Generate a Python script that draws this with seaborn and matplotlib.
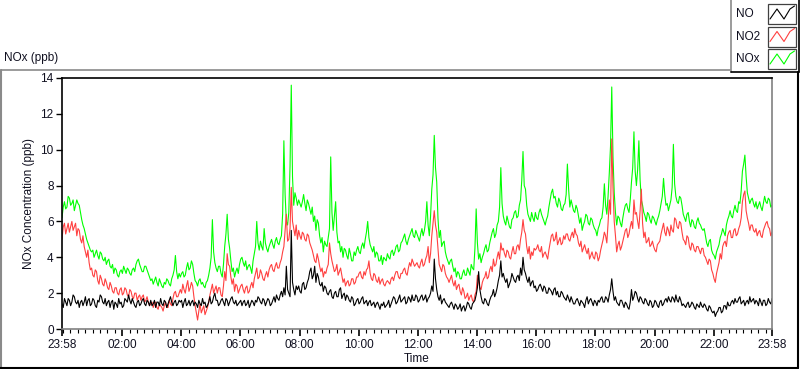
import numpy as np
import pandas as pd
import matplotlib
matplotlib.use("Agg")
import matplotlib.pyplot as plt
from matplotlib.lines import Line2D
from matplotlib.patches import Rectangle
import seaborn as sns

# ---------------- data ----------------
# readings every 5 minutes starting 23:58 (on the :58/:03/... marks)
no_vals = [
    1.4,1.7,1.3,1.6,1.5,1.8,1.4,1.2,1.6,1.5,1.3,1.7,
    1.4,1.6,1.2,1.5,1.8,1.4,1.3,1.6,1.5,1.1,1.4,1.7,
    1.5,1.3,1.6,1.9,1.4,1.5,1.2,1.6,1.4,1.7,1.3,1.5,
    1.6,1.4,1.2,1.5,1.7,1.3,1.5,1.4,1.8,1.3,1.6,1.4,
    1.5,1.2,1.7,1.4,1.3,1.6,1.5,1.2,1.4,1.7,1.5,1.3,
    1.8,1.5,2.0,1.6,1.4,1.7,1.3,1.6,1.5,1.8,1.4,1.3,
    1.5,1.3,1.6,1.4,1.2,1.6,1.3,1.5,1.7,1.4,1.6,1.5,
    1.6,1.4,1.8,1.9,1.6,2.1,2.3,3.5,2.0,5.5,2.2,2.4,
    2.4,2.0,2.6,2.3,2.8,3.4,3.0,2.6,2.9,2.4,2.1,2.3,
    1.9,2.2,1.7,2.1,1.8,2.3,1.9,1.6,1.8,1.5,1.7,1.4,
    1.7,1.5,1.8,1.5,1.3,1.6,1.4,1.2,1.5,1.1,1.3,1.2,
    1.4,1.2,1.6,1.7,1.5,1.9,1.6,1.8,1.5,1.7,1.9,1.6,
    1.8,1.6,1.9,1.7,1.5,1.8,2.4,3.9,2.2,1.6,1.4,1.7,
    1.4,1.2,1.5,1.1,1.3,1.2,1.0,1.3,1.2,1.4,1.1,1.5,
    1.9,3.2,1.8,1.4,1.6,1.3,1.8,2.2,2.0,2.7,3.8,3.1,
    2.6,2.3,2.7,2.9,2.6,3.0,3.4,4.0,3.1,2.6,2.4,2.7,
    2.4,2.2,2.5,2.1,2.3,2.0,2.2,1.9,2.3,2.1,1.8,2.0,
    1.7,1.9,1.5,1.6,1.4,1.7,1.3,1.5,1.2,1.8,1.6,1.5,
    1.6,1.3,1.5,1.8,1.5,1.7,1.9,2.8,1.6,1.5,1.3,1.6,
    1.2,1.4,1.1,2.2,1.8,2.0,1.5,1.7,1.4,1.6,1.3,1.5,
    1.3,1.5,1.2,1.6,1.4,1.7,1.8,1.5,1.7,1.9,1.5,1.6,
    1.4,1.2,1.5,1.3,1.4,1.1,1.3,1.5,1.2,1.3,1.0,1.2,
    0.9,0.7,1.0,1.2,1.0,1.3,1.5,1.3,1.6,1.7,1.5,1.8,
    1.5,1.3,1.6,1.8,1.6,1.4,1.5,1.7,1.3,1.6,1.4,1.5,
    1.7,
]
# readings at the 2.5-minute offsets in between
no_mid = [
    1.2,1.5,1.7,1.3,1.9,1.5,1.6,1.5,1.3,1.8,1.6,1.3,
    1.7,1.3,1.6,1.9,1.5,1.7,1.5,1.2,1.6,1.5,1.2,1.4,
    1.2,1.7,1.5,1.6,1.7,1.3,1.5,1.3,1.6,1.4,1.6,1.3,
    1.3,1.6,1.5,1.3,1.4,1.6,1.2,1.6,1.5,1.5,1.3,1.6,
    1.6,1.5,1.3,1.6,1.5,1.3,1.4,1.6,1.3,1.4,1.2,1.5,
    1.4,1.8,1.6,1.3,1.6,1.5,1.7,1.3,1.7,1.5,1.6,1.4,
    1.6,1.5,1.3,1.6,1.4,1.5,1.6,1.8,1.5,1.7,1.3,1.7,
    1.3,1.6,1.5,1.7,1.9,1.8,1.9,2.2,1.8,2.6,1.9,2.2,
    2.1,2.5,2.2,2.6,3.2,2.8,3.5,3.1,2.5,2.6,2.4,2.0,
    2.1,1.8,2.0,1.8,2.2,1.7,2.0,1.9,1.6,1.8,1.3,1.6,
    1.4,1.7,1.4,1.6,1.5,1.3,1.5,1.4,1.3,1.4,1.5,1.3,
    1.6,1.4,1.8,1.4,1.7,1.5,1.7,1.4,1.8,1.5,1.6,1.9,
    1.5,1.8,1.6,1.9,1.7,2.0,2.1,2.8,1.8,1.9,1.6,1.5,
    1.3,1.4,1.3,1.4,1.1,1.4,1.2,1.0,1.5,1.2,1.4,1.6,
    2.3,2.2,1.5,1.7,1.4,1.6,1.9,1.8,2.3,3.0,2.9,2.8,
    2.8,2.5,3.1,2.7,2.9,2.7,3.0,3.3,2.8,2.9,2.6,2.3,
    2.1,2.4,2.3,2.4,2.0,2.3,2.1,2.2,1.9,1.8,2.1,1.8,
    1.6,1.7,1.8,1.4,1.6,1.5,1.6,1.4,1.6,1.4,1.7,1.3,
    1.5,1.6,1.7,1.5,1.8,1.5,2.2,2.1,1.8,1.4,1.6,1.4,
    1.5,1.2,1.5,1.6,2.1,1.7,1.8,1.5,1.7,1.4,1.6,1.2,
    1.6,1.3,1.5,1.3,1.6,1.5,1.6,1.8,1.5,1.6,1.8,1.3,
    1.3,1.4,1.2,1.5,1.2,1.4,1.2,1.3,1.4,1.1,1.3,1.0,
    1.0,0.9,1.2,0.9,1.3,1.1,1.3,1.5,1.4,1.5,1.7,1.4,
    1.6,1.5,1.4,1.5,1.7,1.6,1.3,1.5,1.6,1.3,1.7,1.4,
]

no2_vals = [
    5.0,5.9,5.6,5.4,6.0,5.7,5.2,5.5,4.8,4.6,4.0,3.7,
    3.4,2.9,3.2,2.5,2.8,2.4,2.6,2.2,2.4,2.0,2.3,1.9,
    2.3,2.0,2.2,1.8,2.1,1.7,2.0,1.8,1.6,1.9,1.6,1.5,
    1.4,1.2,1.5,1.1,1.3,1.0,1.5,1.2,1.4,1.7,2.1,1.8,
    2.2,2.5,2.0,2.7,2.3,2.4,1.3,0.5,1.4,1.1,0.8,1.2,
    1.9,2.5,2.2,2.0,2.3,1.8,3.2,4.2,3.5,2.5,2.1,2.4,
    2.2,2.5,2.0,2.4,2.1,2.6,2.8,3.4,2.9,3.1,2.7,3.2,
    3.3,3.6,3.2,3.7,3.4,3.9,4.6,6.4,5.0,7.9,5.6,5.8,
    5.5,5.0,5.3,4.9,5.2,4.6,4.1,3.7,3.9,3.2,2.9,3.1,
    3.6,4.2,3.5,3.3,3.0,3.4,2.6,2.4,2.7,2.5,2.8,2.6,
    2.9,3.2,2.8,3.0,3.4,3.1,2.7,3.0,2.6,2.5,2.8,2.4,
    2.7,2.5,2.9,3.0,3.2,2.8,3.1,3.4,3.0,3.7,3.9,3.5,
    3.7,3.4,3.9,3.6,4.1,3.7,5.2,6.6,5.4,3.6,3.2,3.5,
    2.9,2.6,3.0,2.4,2.2,2.5,1.9,2.1,1.8,1.6,1.9,1.5,
    2.1,2.6,2.2,2.8,3.2,2.9,3.5,3.9,3.6,4.3,4.8,4.5,
    4.0,4.3,3.9,4.6,4.2,4.7,5.0,6.1,5.3,4.2,3.9,4.1,
    4.4,4.7,4.3,4.0,4.3,3.9,4.8,5.3,5.0,4.7,5.1,4.8,
    5.0,5.3,4.9,5.4,5.6,5.2,4.6,4.3,4.7,4.2,3.9,4.3,
    3.9,4.2,4.0,4.7,5.4,4.8,7.2,10.6,6.0,4.3,4.9,4.6,
    5.2,5.6,5.3,6.0,7.2,6.5,5.6,7.8,5.1,4.8,5.1,4.7,
    4.6,4.3,4.8,5.3,5.9,5.2,5.5,5.8,5.4,6.1,5.6,5.9,
    5.0,4.7,5.1,4.4,4.7,4.3,4.6,4.2,4.5,4.0,3.6,3.8,
    3.1,2.6,3.4,4.2,4.6,4.9,5.2,5.5,5.1,5.6,5.3,5.8,
    7.1,7.7,6.2,5.5,5.8,5.4,5.2,5.5,5.1,5.7,6.0,5.6,
    5.4,
]
no2_mid = [
    5.7,5.3,5.9,5.7,5.5,5.9,5.6,5.0,5.2,4.3,4.4,3.3,
    3.0,3.3,2.7,3.0,2.5,2.8,2.3,2.6,2.1,2.3,2.0,2.2,
    1.9,2.3,1.9,2.2,1.8,2.0,1.6,1.9,1.8,1.5,1.8,1.3,
    1.5,1.4,1.2,1.4,1.2,1.3,1.2,1.6,1.3,2.0,1.8,2.0,
    2.0,2.2,2.4,2.1,2.6,1.8,0.9,1.0,0.9,1.3,1.0,1.5,
    2.2,2.0,2.4,2.3,1.9,2.4,2.7,3.6,2.9,2.8,2.5,2.0,
    2.4,2.2,2.3,2.0,2.4,2.3,3.1,2.8,3.3,2.8,3.0,2.9,
    3.5,3.3,3.5,3.4,3.7,4.3,5.5,4.9,5.6,6.0,5.2,5.0,
    5.2,5.4,5.0,5.3,4.8,4.4,3.8,4.2,3.5,3.4,3.2,3.4,
    4.8,3.8,3.2,3.6,3.2,3.0,2.8,2.6,2.4,2.8,2.5,2.9,
    3.1,2.9,3.2,3.3,3.8,2.8,3.1,2.7,2.9,2.7,2.5,2.6,
    2.6,2.8,2.7,3.2,2.9,3.1,3.3,3.1,3.4,3.5,3.7,3.6,
    3.5,3.7,3.5,3.9,4.6,4.2,5.9,5.8,4.5,3.4,3.6,3.1,
    2.8,2.8,2.6,2.7,2.4,2.1,2.3,1.7,2.0,1.8,1.6,1.9,
    3.0,2.3,2.6,2.9,2.8,3.3,3.2,3.5,4.0,3.9,4.4,4.2,
    4.4,4.0,4.3,4.2,4.6,4.4,5.4,5.5,4.6,4.6,4.3,4.5,
    4.5,4.4,4.6,4.2,4.1,4.4,5.2,4.9,5.4,4.9,4.7,5.2,
    5.3,5.0,5.2,5.1,5.3,4.8,4.9,4.5,4.4,4.5,4.1,4.0,
    4.3,3.8,4.4,5.0,5.2,5.9,6.4,7.9,5.2,4.7,4.4,4.9,
    5.5,5.1,5.7,5.6,6.4,6.0,6.6,5.9,5.4,4.9,4.6,4.9,
    4.4,4.7,4.9,5.6,5.4,5.7,5.2,5.5,6.2,5.7,6.0,5.4,
    4.9,5.2,4.6,4.8,4.4,4.6,4.4,4.5,4.1,3.8,3.9,3.3,
    2.8,3.1,3.7,3.9,4.8,4.6,5.4,5.1,5.5,5.2,5.6,6.2,
    7.5,6.6,5.9,5.8,5.5,5.6,5.4,5.2,5.5,5.9,5.7,5.2,
]

nox_vals = [
    6.2,7.1,6.8,7.3,7.0,6.6,7.2,6.9,6.1,5.6,5.0,4.6,
    4.3,4.0,4.4,3.9,4.2,3.8,3.6,3.9,3.4,3.1,3.3,2.9,
    3.3,3.5,3.1,3.3,3.0,3.4,3.6,3.9,3.4,3.2,3.5,3.1,
    2.7,2.5,2.9,2.4,2.6,2.3,2.5,2.7,2.4,3.0,4.1,2.8,
    2.9,3.2,3.0,3.7,3.4,3.6,2.7,2.4,2.8,2.6,2.3,2.7,
    3.4,6.1,3.7,3.2,3.5,2.9,4.6,6.4,4.5,3.2,2.9,3.4,
    3.6,4.0,3.5,3.3,3.6,3.1,4.2,6.0,4.4,4.6,5.6,4.5,
    4.6,5.0,4.5,5.1,4.7,5.2,10.5,6.0,6.5,13.6,6.9,7.3,
    7.2,6.8,7.5,6.6,7.0,6.4,6.0,5.5,5.9,4.8,4.3,4.7,
    5.1,9.6,5.5,7.1,4.8,4.3,4.0,4.4,3.9,4.2,3.8,4.1,
    4.6,4.2,4.8,5.0,6.0,4.7,4.3,4.0,4.2,3.8,3.6,3.9,
    4.2,3.9,4.4,4.3,4.7,4.4,4.9,5.3,4.7,5.2,5.6,5.1,
    5.3,4.9,5.6,5.5,7.1,5.2,7.8,10.8,8.2,5.1,4.6,4.9,
    4.0,3.6,3.9,3.2,2.9,3.1,2.8,3.3,3.0,3.2,3.6,3.3,
    6.7,3.9,3.7,4.2,4.7,4.4,5.1,5.6,5.3,6.0,9.0,6.3,
    5.8,6.0,5.6,6.2,6.6,6.3,7.2,9.9,7.8,6.4,6.0,6.2,
    6.5,6.1,6.7,6.2,5.8,6.3,7.2,7.8,7.4,6.8,7.1,6.6,
    7.0,9.2,6.8,6.9,6.5,6.7,5.9,5.5,6.0,6.3,5.8,6.1,
    5.6,5.2,5.8,6.2,8.1,6.4,8.7,13.5,7.6,5.8,6.2,5.7,
    6.6,7.0,6.5,8.2,11.0,8.0,10.5,7.2,6.5,6.0,6.4,5.9,
    6.2,5.8,6.3,7.0,8.4,6.9,6.6,7.2,10.3,7.4,7.0,7.3,
    6.4,6.0,6.5,5.7,6.0,5.6,6.2,5.8,5.5,5.2,4.6,5.0,
    4.2,3.9,4.5,5.1,5.6,5.2,6.1,6.6,6.2,6.9,6.5,7.0,
    8.8,9.7,7.6,7.0,7.3,6.8,6.7,7.1,6.6,7.4,7.0,7.2,
    6.9,
]
nox_mid = [
    6.8,6.7,7.4,6.9,7.2,6.9,7.0,6.5,5.8,5.3,4.8,4.4,
    4.4,4.2,4.1,4.3,3.9,4.0,3.8,3.5,3.6,3.4,3.0,3.2,
    3.1,3.3,3.4,3.1,3.3,3.2,3.8,3.6,3.2,3.5,3.3,2.9,
    2.8,2.7,2.6,2.8,2.4,2.6,2.8,2.5,2.8,3.3,3.2,3.1,
    3.1,2.9,3.4,3.3,3.8,3.1,2.6,2.7,2.5,2.4,2.6,3.0,
    4.0,4.3,3.4,3.5,3.1,3.6,5.3,5.0,3.8,3.4,3.2,3.1,
    3.9,3.7,3.8,3.5,3.4,3.8,4.6,4.8,4.9,4.4,4.8,4.3,
    4.8,4.7,4.9,4.8,5.0,6.4,7.5,5.8,9.1,8.5,7.6,6.9,
    7.0,7.1,7.0,7.2,6.7,6.8,6.3,6.1,5.2,5.1,4.9,4.6,
    5.6,6.5,6.3,5.4,4.9,4.6,4.5,4.1,4.5,3.8,4.3,4.4,
    4.3,4.6,4.5,5.4,5.1,4.5,4.6,4.3,3.8,4.1,4.0,3.8,
    4.0,4.3,4.1,4.6,4.3,4.8,5.1,4.9,5.0,5.4,5.2,5.5,
    5.1,5.3,5.2,6.0,5.8,6.3,8.6,9.0,6.2,5.5,4.8,4.3,
    3.8,3.8,3.5,3.4,3.2,2.8,3.1,3.0,3.4,3.0,3.4,4.5,
    4.8,4.2,4.0,4.5,4.3,4.8,5.4,5.1,5.8,6.8,7.0,6.0,
    6.3,5.7,6.1,6.5,6.2,6.9,8.3,8.0,6.9,6.2,6.5,6.0,
    6.2,6.5,6.4,6.0,6.1,6.8,7.6,7.3,7.0,7.3,6.7,6.9,
    7.5,7.8,7.2,6.6,6.9,6.3,6.2,5.8,6.4,5.9,6.2,5.8,
    5.5,5.6,6.1,6.8,6.9,7.4,10.2,9.6,6.5,6.3,5.9,6.2,
    6.9,6.7,7.2,9.0,8.8,8.9,8.3,6.9,6.3,6.5,6.1,6.3,
    6.0,6.1,6.6,7.4,7.5,7.0,6.9,7.9,8.1,7.1,7.4,6.9,
    6.2,6.4,6.0,6.1,5.7,6.0,5.9,5.6,5.6,4.8,4.9,4.4,
    4.1,4.3,4.7,5.3,5.4,5.8,6.3,6.3,6.6,6.6,7.1,7.7,
    9.2,8.5,7.3,7.2,7.0,7.1,6.9,6.8,7.0,7.1,7.3,6.8,
]

series_names = ["NO", "NO2", "NOx"]
series_colors = ["#000000", "#ff4040", "#00ff00"]
start_time = "2023-01-01 23:58"
step_seconds = 150
tick_labels = ["23:58", "02:00", "04:00", "06:00", "08:00", "10:00", "12:00",
               "14:00", "16:00", "18:00", "20:00", "22:00", "23:58"]
y_ticks = [0, 2, 4, 6, 8, 10, 12, 14]


def merge(main, mid):
    out = []
    for i, v in enumerate(main):
        out.append(v)
        if i < len(mid):
            out.append(mid[i])
    return out


no_all = merge(no_vals, no_mid)
no2_all = merge(no2_vals, no2_mid)
nox_all = merge(nox_vals, nox_mid)

times = pd.date_range(start_time, periods=len(no_all), freq=f"{step_seconds}s")
t0 = times[0]
hours = (times - t0).total_seconds() / 3600.0
df = pd.DataFrame({"hours": hours, "NO": no_all, "NO2": no2_all, "NOx": nox_all})

tick_pos = []
for i, lab in enumerate(tick_labels):
    if i == 0:
        tick_pos.append(0.0)
    elif i == len(tick_labels) - 1:
        tick_pos.append(float(hours[-1]))
    else:
        hh, mm = map(int, lab.split(":"))
        t = pd.Timestamp("2023-01-02") + pd.Timedelta(hours=hh, minutes=mm)
        tick_pos.append((t - t0).total_seconds() / 3600.0)

# ---------------- style ----------------
sns.set_theme(style="white")
plt.rcParams["font.family"] = ["Liberation Sans", "DejaVu Sans"]
plt.rcParams["font.size"] = 8.5
txt_color = "#101020"

W, H = 800, 369
fig = plt.figure(figsize=(W / 100, H / 100), dpi=100)
fig.patch.set_facecolor("white")


def fx(px):
    return px / W


def fy(py):
    return 1 - py / H


ax = fig.add_axes([fx(62), fy(329), fx(772) - fx(62), fy(78) - fy(329)])
ax.set_facecolor("white")

for name, col in [("NOx", series_colors[2]), ("NO2", series_colors[1]), ("NO", series_colors[0])]:
    sns.lineplot(data=df, x="hours", y=name, color=col, lw=0.8, ax=ax, legend=False)

ax.set_xlim(0, float(hours[-1]))
ax.set_ylim(0, 14)
ax.set_xticks(tick_pos)
ax.set_xticklabels(tick_labels)
minor = np.arange(tick_pos[1] % 0.25, float(hours[-1]) + 1e-6, 0.25)
ax.set_xticks(minor, minor=True)
ax.set_yticks(y_ticks)
ax.set_yticklabels([str(v) for v in y_ticks])
ax.tick_params(axis="x", which="major", direction="out", length=5, width=1.2,
               colors="black", labelcolor=txt_color, labelsize=8.5, pad=2, bottom=True)
ax.tick_params(axis="x", which="minor", direction="out", length=3, width=0.8,
               colors="black", bottom=True)
ax.tick_params(axis="y", which="major", direction="out", length=4, width=1.0,
               colors="black", labelcolor=txt_color, labelsize=8.5, pad=2, left=True)
ax.set_xlabel("Time", color=txt_color, fontsize=8.5, labelpad=2)
ax.set_ylabel("NOx Concentration (ppb)", color=txt_color, fontsize=8.5, labelpad=4)
for side in ["top", "left"]:
    ax.spines[side].set_color("black")
    ax.spines[side].set_linewidth(1.2)
for side in ["bottom", "right"]:
    ax.spines[side].set_color("#808080")
    ax.spines[side].set_linewidth(1.2)

# ---------------- outer frame ----------------
gray = "#8a8a8a"
fig.add_artist(Line2D([fx(0.5), fx(730)], [fy(69.5), fy(69.5)], color=gray, lw=1.2))
fig.add_artist(Line2D([fx(0.8), fx(0.8)], [fy(69.5), fy(368)], color=gray, lw=1.5))
fig.add_artist(Line2D([fx(0), fx(798)], [fy(368), fy(368)], color="black", lw=1.5))
fig.add_artist(Line2D([fx(798), fx(798)], [fy(72), fy(368)], color="black", lw=1.5))
fig.text(fx(4), fy(58), "NOx (ppb)", color=txt_color, fontsize=8.5, va="center", ha="left")

# ---------------- legend ----------------
fig.add_artist(Line2D([fx(730.5), fx(730.5)], [fy(0), fy(72)], color=gray, lw=1.2))
fig.add_artist(Line2D([fx(730.5), fx(799)], [fy(72), fy(72)], color="black", lw=1.2))
fig.add_artist(Line2D([fx(799), fx(799)], [fy(0), fy(72)], color="black", lw=1.2))
for i, (name, col) in enumerate(zip(series_names, series_colors)):
    cy = 14 + i * 22.5
    fig.text(fx(736), fy(cy), name, color=txt_color, fontsize=8.5, va="center", ha="left")
    bx0, bx1, by0, by1 = 768, 796, cy - 10, cy + 10
    fig.add_artist(Rectangle((fx(bx0), fy(by1)), fx(bx1) - fx(bx0), fy(by0) - fy(by1),
                             facecolor="white", edgecolor="#404040", lw=0.9))
    zx = [770, 777, 784, 790, 794.5]
    zy = [cy + 5, cy - 5, cy + 5, cy - 5, cy - 8]
    fig.add_artist(Line2D([fx(v) for v in zx], [fy(v) for v in zy], color=col, lw=0.8))

fig.savefig("out.png", dpi=100, facecolor="white")
